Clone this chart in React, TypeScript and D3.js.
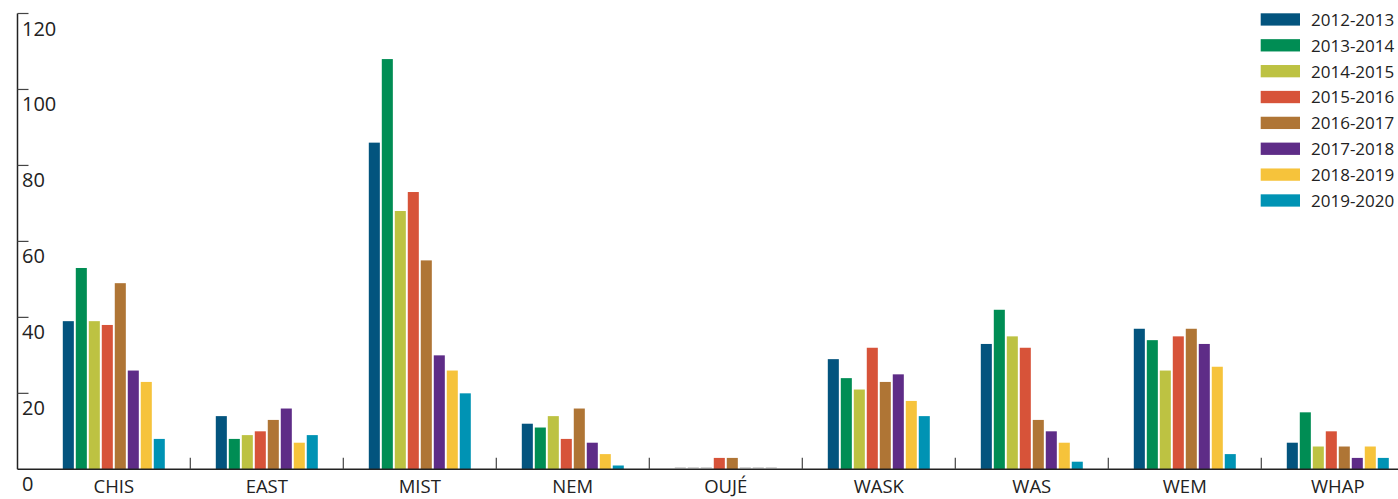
import React from "react";
import * as d3 from "d3";

const categories = ["CHIS", "EAST", "MIST", "NEM", "OUJÉ", "WASK", "WAS", "WEM", "WHAP"];
const seriesNames = ["2012-2013", "2013-2014", "2014-2015", "2015-2016", "2016-2017", "2017-2018", "2018-2019", "2019-2020"];
const seriesColors = ["#03547E", "#008D54", "#BDC242", "#D75339", "#AF7535", "#5E2C87", "#F6C33B", "#0093B4"];

// values per category, one per series (2012-2013 ... 2019-2020)
const CHIS = [39, 53, 39, 38, 49, 26, 23, 8];
const EAST = [14, 8, 9, 10, 13, 16, 7, 9];
const MIST = [86, 108, 68, 73, 55, 30, 26, 20];
const NEM = [12, 11, 14, 8, 16, 7, 4, 1];
const OUJE = [0, 0, 0, 3, 3, 0, 0, 0];
const WASK = [29, 24, 21, 32, 23, 25, 18, 14];
const WAS = [33, 42, 35, 32, 13, 10, 7, 2];
const WEM = [37, 34, 26, 35, 37, 33, 27, 4];
const WHAP = [7, 15, 6, 10, 6, 3, 6, 3];
const values = [CHIS, EAST, MIST, NEM, OUJE, WASK, WAS, WEM, WHAP];
const yTicks = [0, 20, 40, 60, 80, 100, 120];

const W = 1398;
const H = 499;
const FONT = "'Open Sans', 'Noto Sans', sans-serif";

export default function App() {
  const axisX = 17.5;
  const y = d3.scaleLinear().domain([0, 120]).range([469.3, 13.5]);
  const x0 = d3
    .scaleBand<string>()
    .domain(categories)
    .range([37.3, 1414.3])
    .paddingInner(1 / 3)
    .paddingOuter(1 / 6);
  const x1 = d3
    .scaleBand<string>()
    .domain(seriesNames)
    .range([0, x0.bandwidth()])
    .paddingInner(0.15);
  const step = x0.step();
  const start = x0.range()[0];
  const y0 = y(0);

  return (
    <svg
      width={W}
      height={H}
      style={{ position: "absolute", left: 0, top: 0, background: "#fff" }}
      fontFamily={FONT}
    >
      {/* bars */}
      {categories.map((c, ci) => (
        <g key={c} transform={`translate(${x0(c)},0)`}>
          {seriesNames.map((s, si) => {
            const v = values[ci][si];
            if (v === 0) {
              return (
                <line
                  key={s}
                  x1={x1(s)!}
                  x2={x1(s)! + x1.bandwidth()}
                  y1={y0 - 1.5}
                  y2={y0 - 1.5}
                  stroke="#999"
                  strokeOpacity={0.6}
                  strokeWidth={1}
                />
              );
            }
            return (
              <rect
                key={s}
                x={x1(s)!}
                y={y(v)}
                width={x1.bandwidth()}
                height={y0 - y(v)}
                fill={seriesColors[si]}
              />
            );
          })}
        </g>
      ))}

      {/* x axis */}
      <line x1={axisX} x2={W} y1={y0} y2={y0} stroke="#222" strokeWidth={1.5} />
      {categories.slice(1).map((c, i) => {
        const tx = start + (i + 1) * step;
        return <line key={c} x1={tx} x2={tx} y1={y0} y2={y0 - 11.5} stroke="#444" strokeWidth={1.2} />;
      })}
      {categories.map((c) => (
        <text
          key={c}
          x={x0(c)! + x0.bandwidth() / 2}
          y={492.5}
          textAnchor="middle"
          fontSize={18.5}
          fill="#222"
        >
          {c}
        </text>
      ))}

      {/* y axis */}
      <line x1={axisX} x2={axisX} y1={y(120)} y2={y0} stroke="#222" strokeWidth={1.5} />
      {yTicks.map((t) => (
        <g key={t}>
          {t !== 0 && (
            <line x1={axisX} x2={28.5} y1={y(t)} y2={y(t)} stroke="#444" strokeWidth={1.2} />
          )}
          <text x={22} y={y(t) + 22} fontSize={20} fill="#222">
            {t}
          </text>
        </g>
      ))}

      {/* legend */}
      {seriesNames.map((s, i) => (
        <g key={s} transform={`translate(1260.7,${13.3 + i * 25.86})`}>
          <rect x={0} y={0} width={39.3} height={12.3} fill={seriesColors[i]} />
          <text x={50.3} y={12.6} fontSize={17} fill="#222">
            {s}
          </text>
        </g>
      ))}
    </svg>
  );
}
